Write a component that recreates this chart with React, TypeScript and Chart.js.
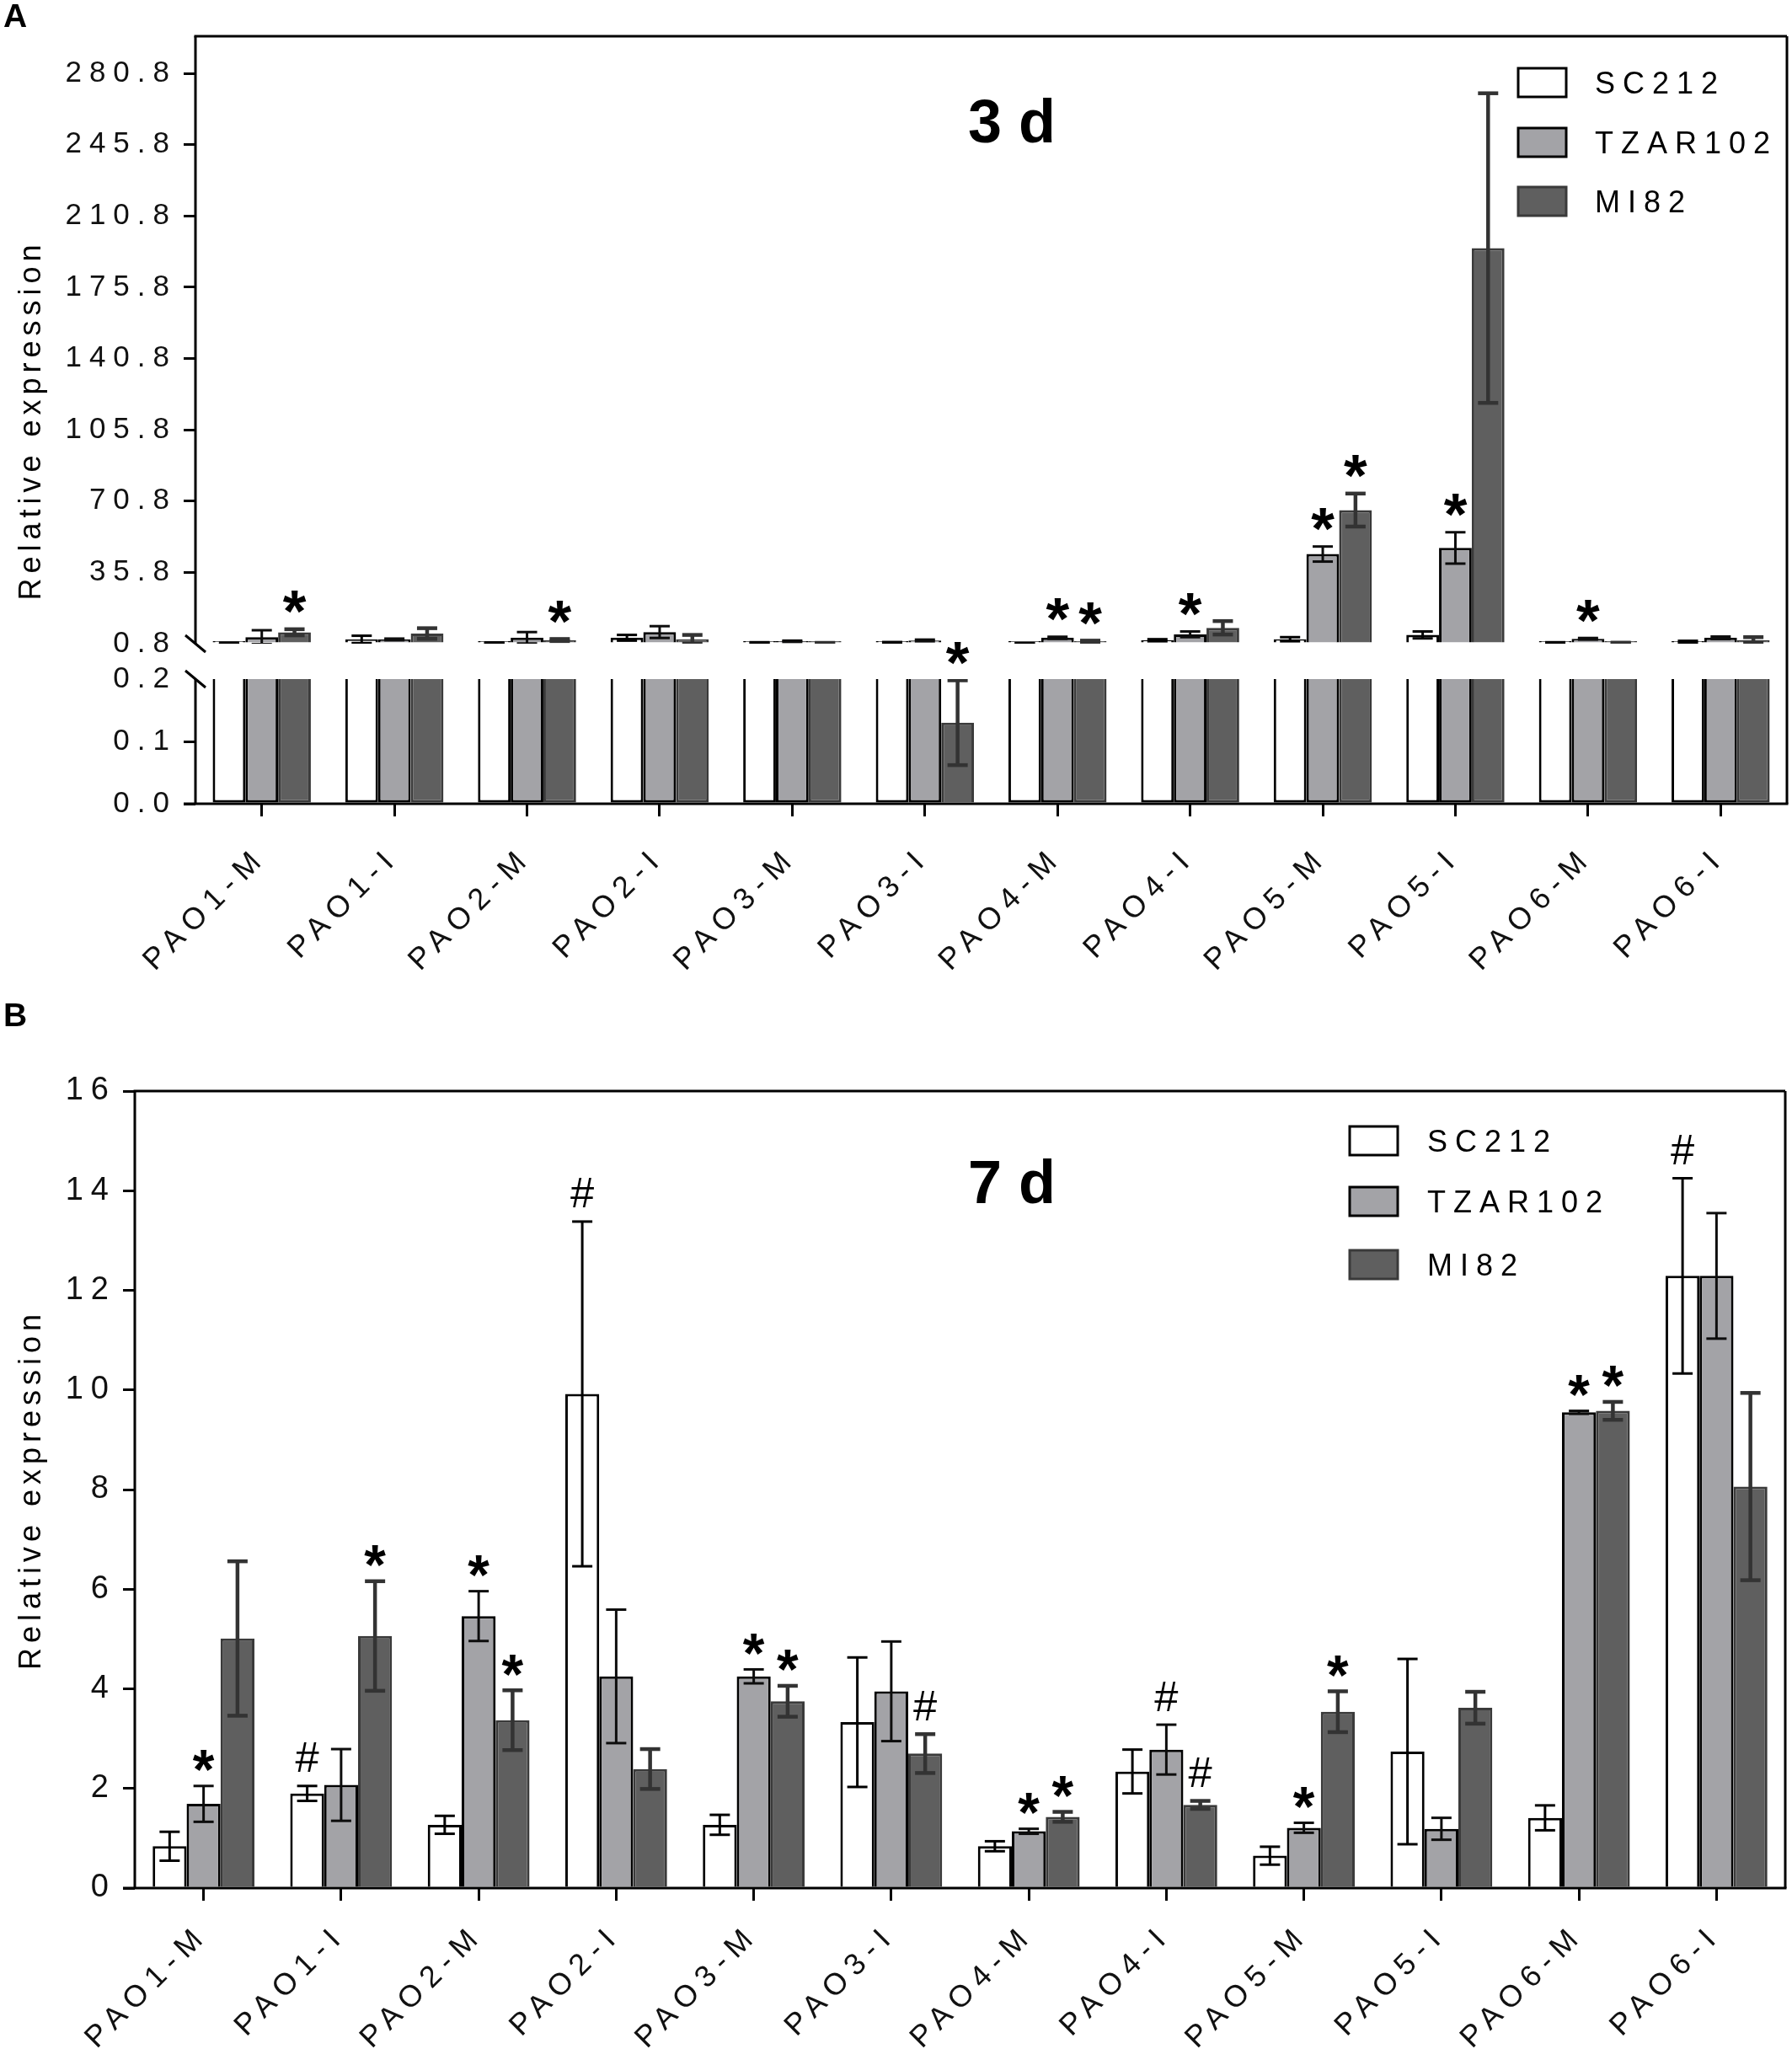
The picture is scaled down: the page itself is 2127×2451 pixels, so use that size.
import React, { useEffect, useRef } from 'react';
import { Chart, registerables } from 'chart.js';

Chart.register(...registerables);

// categorías y series
const CATEGORIES = ['PAO1-M', 'PAO1-I', 'PAO2-M', 'PAO2-I', 'PAO3-M', 'PAO3-I', 'PAO4-M', 'PAO4-I', 'PAO5-M', 'PAO5-I', 'PAO6-M', 'PAO6-I'];
const SERIES_NAMES = ['SC212', 'TZAR102', 'MI82'];

// Panel A (3 d)
const A_SC212 = [1.0, 2.9, 1.2, 3.7, 1.3, 1.4, 1.0, 2.5, 3.0, 5.1, 1.3, 1.8];
const A_SC212_ERR = [0.3, 1.8, 0.2, 1.4, 0.2, 0.2, 0.1, 0.5, 1.0, 1.7, 0.2, 0.4];
const A_TZAR102 = [4.0, 2.9, 3.7, 6.5, 2.0, 2.4, 3.7, 5.4, 44.8, 47.8, 3.2, 3.7];
const A_TZAR102_ERR = [3.4, 0.4, 2.8, 2.9, 0.3, 0.4, 0.5, 1.4, 3.7, 7.7, 0.4, 0.6];
const A_MI82 = [6.4, 5.8, 2.6, 3.0, 1.1, 0.13, 1.9, 8.6, 66.4, 195, 1.2, 2.6];
const A_MI82_ERR = [1.5, 2.6, 0.5, 2.1, 0.1, 0.068, 0.4, 3.3, 8.1, 76, 0.1, 1.4];
const A_SC212_MARKS = ['', '', '', '', '', '', '', '', '', '', '', ''];
const A_TZAR102_MARKS = ['', '', '', '', '', '', '*', '*', '*', '*', '*', ''];
const A_MI82_MARKS = ['*', '', '*', '', '', '*', '*', '', '*', '', '', ''];
const A_UPPER_TICKS = [0.8, 35.8, 70.8, 105.8, 140.8, 175.8, 210.8, 245.8, 280.8];
const A_LOWER_TICKS = [0.0, 0.1, 0.2];
const A_UPPER_MAX = 299;
const A_LOWER_MAX = 0.2568;

// Panel B (7 d)
const B_SC212 = [0.84, 1.9, 1.27, 9.92, 1.27, 3.33, 0.84, 2.34, 0.65, 2.74, 1.41, 12.29];
const B_SC212_ERR = [0.29, 0.15, 0.18, 3.46, 0.2, 1.3, 0.1, 0.44, 0.18, 1.86, 0.25, 1.96];
const B_TZAR102 = [1.69, 2.07, 5.46, 4.25, 4.25, 3.95, 1.14, 2.78, 1.21, 1.19, 9.55, 12.29];
const B_TZAR102_ERR = [0.36, 0.72, 0.5, 1.34, 0.14, 1.0, 0.05, 0.5, 0.1, 0.22, 0.03, 1.26];
const B_MI82 = [5.01, 5.06, 3.37, 2.39, 3.75, 2.7, 1.43, 1.67, 3.54, 3.62, 9.58, 8.06];
const B_MI82_ERR = [1.55, 1.1, 0.6, 0.4, 0.31, 0.39, 0.1, 0.08, 0.41, 0.32, 0.18, 1.88];
const B_SC212_MARKS = ['', '#', '', '#', '', '', '', '', '', '', '', '#'];
const B_TZAR102_MARKS = ['*', '', '*', '', '*', '', '*', '#', '*', '', '*', ''];
const B_MI82_MARKS = ['', '*', '*', '', '*', '#', '*', '#', '*', '', '*', ''];
const B_TICKS = [0, 2, 4, 6, 8, 10, 12, 14, 16];

// estilos
const FONT = "'Liberation Sans', Arial, Helvetica, sans-serif";
const FILLS = ['#ffffff', '#a3a3a7', '#5f5f5f'];
const EDGES = ['#000000', '#000000', '#3a3a3a'];
const ERR_COLORS = ['#000000', '#0d0d0d', '#333333'];
const ERR_WIDTHS = [3, 3, 4.5];
const CAP = 24;
const SPACING = '9px';
const SPLIT = 1180; // altura del lienzo A

interface Series {
  values: number[];
  errors: number[];
  marks: string[];
}

interface Slot {
  meta: number;
  scale: any;
  top: number;
  bottom: number;
}

const line = (ctx: CanvasRenderingContext2D, x1: number, y1: number, x2: number, y2: number) => {
  ctx.beginPath();
  ctx.moveTo(x1, y1);
  ctx.lineTo(x2, y2);
  ctx.stroke();
};

// texto centrado verticalmente según la caja real del glifo
const centerText = (ctx: any, text: string, x: number, cy: number, font: string, spacing = '0px', align = 'center') => {
  ctx.save();
  ctx.letterSpacing = spacing;
  ctx.font = font;
  ctx.fillStyle = '#000';
  ctx.textAlign = align;
  ctx.textBaseline = 'alphabetic';
  const m = ctx.measureText(text);
  ctx.fillText(text, x, cy + (m.actualBoundingBoxAscent - m.actualBoundingBoxDescent) / 2);
  ctx.restore();
};

const glyph = (ctx: any, text: string, x: number, cy: number, height: number, weight: string) => {
  ctx.save();
  ctx.letterSpacing = '0px';
  ctx.font = `${weight} 100px ${FONT}`;
  const m = ctx.measureText(text);
  const size = (100 * height) / (m.actualBoundingBoxAscent + m.actualBoundingBoxDescent);
  ctx.restore();
  centerText(ctx, text, x, cy, `${weight} ${size.toFixed(1)}px ${FONT}`);
};

const drawLegend = (ctx: any, boxX: number, textX: number, rows: number[]) => {
  SERIES_NAMES.forEach((name, s) => {
    const cy = rows[s];
    ctx.save();
    ctx.fillStyle = FILLS[s];
    ctx.fillRect(boxX, cy - 17, 57, 34);
    ctx.strokeStyle = EDGES[s];
    ctx.lineWidth = 3;
    ctx.strokeRect(boxX, cy - 17, 57, 34);
    ctx.restore();
    centerText(ctx, name, textX, cy, `36px ${FONT}`, SPACING, 'left');
  });
};

const drawYTitle = (ctx: any, x: number, cy: number) => {
  ctx.save();
  ctx.translate(x, cy);
  ctx.rotate(-Math.PI / 2);
  ctx.letterSpacing = '6px';
  ctx.font = `36px ${FONT}`;
  ctx.fillStyle = '#000';
  ctx.textAlign = 'center';
  ctx.textBaseline = 'middle';
  ctx.fillText('Relative expression', 0, 0);
  ctx.restore();
};

const spacingPlugin = {
  id: 'spacing',
  beforeLayout: (chart: any) => { chart.ctx.letterSpacing = SPACING; },
  beforeDraw: (chart: any) => { chart.ctx.letterSpacing = SPACING; },
};

// barras de error y marcas de significancia
const seriesDecor = (series: Series[], resolve: (chart: any, si: number, v: number) => Slot | null, starH: number, starGap: number) => ({
  id: 'seriesDecor',
  afterDatasetsDraw: (chart: any) => {
    const ctx = chart.ctx;
    const area = chart.chartArea;
    series.forEach((s, si) => {
      s.values.forEach((v, i) => {
        const slot = resolve(chart, si, v);
        if (!slot) return;
        const bar = chart.getDatasetMeta(slot.meta).data[i];
        const yHi = slot.scale.getPixelForValue(v + s.errors[i]);
        const yLo = slot.scale.getPixelForValue(v - s.errors[i]);
        ctx.save();
        ctx.beginPath();
        ctx.rect(area.left, slot.top, area.right - area.left, slot.bottom - slot.top);
        ctx.clip();
        ctx.strokeStyle = ERR_COLORS[si];
        ctx.lineWidth = ERR_WIDTHS[si];
        line(ctx, bar.x, yHi, bar.x, yLo);
        line(ctx, bar.x - CAP / 2, yHi, bar.x + CAP / 2, yHi);
        line(ctx, bar.x - CAP / 2, yLo, bar.x + CAP / 2, yLo);
        ctx.restore();
      });
    });
  },
  afterDraw: (chart: any) => {
    const ctx = chart.ctx;
    series.forEach((s, si) => {
      s.marks.forEach((mark, i) => {
        if (!mark) return;
        const v = s.values[i];
        const slot = resolve(chart, si, v);
        if (!slot) return;
        const bar = chart.getDatasetMeta(slot.meta).data[i];
        const top = slot.scale.getPixelForValue(v + s.errors[i]);
        if (mark === '*') glyph(ctx, '*', bar.x, top - starGap, starH, 'bold');
        else glyph(ctx, '#', bar.x, top - 34, 35, 'normal');
      });
    });
  },
});

const xScale = (height: number, padding: number) => ({
  type: 'category',
  offset: true,
  grid: { offset: false, drawOnChartArea: false, drawTicks: true, tickLength: 15, lineWidth: 3, color: '#000' },
  border: { display: false },
  ticks: { autoSkip: false, maxRotation: 45, minRotation: 45, padding, color: '#111', font: { family: FONT, size: 36 } },
  afterFit: (s: any) => { s.height = height; },
});

const yTicks = (size: number, digits: number) => ({
  color: '#111',
  padding: 8,
  font: { family: FONT, size },
  callback: (v: any) => Number(v).toFixed(digits),
});

const buildA = (ctx: CanvasRenderingContext2D) => {
  const series: Series[] = [
    { values: A_SC212, errors: A_SC212_ERR, marks: A_SC212_MARKS },
    { values: A_TZAR102, errors: A_TZAR102_ERR, marks: A_TZAR102_MARKS },
    { values: A_MI82, errors: A_MI82_ERR, marks: A_MI82_MARKS },
  ];
  const upperMin = A_UPPER_TICKS[0];
  const lowerTop = A_LOWER_TICKS[A_LOWER_TICKS.length - 1];

  const upper = series.map((s, si) => ({
    label: SERIES_NAMES[si],
    data: s.values.map((v) => (v >= upperMin ? v : null)),
    yAxisID: 'y',
    stack: 'g' + si,
    base: upperMin,
    minBarLength: 3,
    backgroundColor: FILLS[si],
    borderColor: EDGES[si],
    borderWidth: 3,
  }));
  const lower = series.map((s, si) => ({
    label: SERIES_NAMES[si] + ' (low)',
    data: s.values.map((v) => Math.min(v, lowerTop)),
    yAxisID: 'yLow',
    stack: 'g' + si,
    backgroundColor: FILLS[si],
    borderColor: EDGES[si],
    borderWidth: 3,
    borderSkipped: (c: any) => (c.raw >= lowerTop ? 'top' : 'start'),
  }));

  const resolve = (chart: any, si: number, v: number): Slot | null => {
    if (v >= upperMin) {
      const sc = chart.scales.y;
      return { meta: si, scale: sc, top: sc.top, bottom: sc.bottom };
    }
    if (v < lowerTop) {
      const sc = chart.scales.yLow;
      return { meta: si + 3, scale: sc, top: sc.getPixelForValue(lowerTop), bottom: sc.bottom };
    }
    return null;
  };

  const frame = {
    id: 'frameA',
    afterDraw: (chart: any) => {
      const c = chart.ctx;
      const a = chart.chartArea;
      const yHi = chart.scales.y.getPixelForValue(upperMin);
      const yLo = chart.scales.yLow.getPixelForValue(lowerTop);
      c.save();
      c.strokeStyle = '#000';
      c.lineWidth = 3;
      line(c, a.left - 1.5, a.top, a.right, a.top);
      line(c, a.right, a.top, a.right, a.bottom);
      line(c, a.left - 14, a.bottom, a.right + 1.5, a.bottom);
      line(c, a.left, a.top, a.left, yHi);
      line(c, a.left, yLo, a.left, a.bottom);
      line(c, a.left - 12, yHi - 10, a.left + 12, yHi + 10);
      line(c, a.left - 12, yLo - 10, a.left + 12, yLo + 10);
      c.restore();
      drawLegend(c, 1802, 1893, [98, 169, 239]);
      centerText(c, '3 d', 1201, 143, `bold 72px ${FONT}`, '0px');
      centerText(c, 'A', 4, 18, `bold 39px ${FONT}`, '0px', 'left');
      drawYTitle(c, 38, (a.top + a.bottom) / 2);
    },
  };

  return new Chart(ctx, {
    type: 'bar',
    data: { labels: CATEGORIES, datasets: [...upper, ...lower] as any },
    options: {
      responsive: false,
      animation: false,
      devicePixelRatio: 1,
      events: [],
      layout: { padding: { top: 43, right: 6, bottom: 0, left: 0 } },
      datasets: { bar: { categoryPercentage: 0.74, barPercentage: 1 } },
      plugins: { legend: { display: false }, tooltip: { enabled: false } },
      scales: {
        x: xScale(SPLIT - 954, 28),
        y: {
          type: 'linear',
          position: 'left',
          stack: 'left',
          stackWeight: 721,
          weight: 2,
          stacked: false,
          min: upperMin,
          max: A_UPPER_MAX,
          afterBuildTicks: (s: any) => { s.ticks = A_UPPER_TICKS.map((value) => ({ value })); },
          afterFit: (s: any) => { s.width = 232; },
          grid: {
            drawOnChartArea: false, drawTicks: true, tickLength: 14, lineWidth: 3,
            color: (c: any) => (c.tick && c.tick.value === upperMin ? 'rgba(0,0,0,0)' : '#000'),
          },
          border: { display: false },
          ticks: yTicks(35, 1),
        },
        yLow: {
          type: 'linear',
          position: 'left',
          stack: 'left',
          stackWeight: 190,
          weight: 1,
          stacked: false,
          min: 0,
          max: A_LOWER_MAX,
          afterBuildTicks: (s: any) => { s.ticks = A_LOWER_TICKS.map((value) => ({ value })); },
          afterFit: (s: any) => { s.width = 232; },
          grid: {
            drawOnChartArea: false, drawTicks: true, tickLength: 14, lineWidth: 3,
            color: (c: any) => (c.tick && c.tick.value === lowerTop ? 'rgba(0,0,0,0)' : '#000'),
          },
          border: { display: false },
          ticks: yTicks(35, 1),
        },
      } as any,
    },
    plugins: [spacingPlugin, seriesDecor(series, resolve, 27, 32), frame] as any,
  });
};

const buildB = (ctx: CanvasRenderingContext2D) => {
  const series: Series[] = [
    { values: B_SC212, errors: B_SC212_ERR, marks: B_SC212_MARKS },
    { values: B_TZAR102, errors: B_TZAR102_ERR, marks: B_TZAR102_MARKS },
    { values: B_MI82, errors: B_MI82_ERR, marks: B_MI82_MARKS },
  ];
  const datasets = series.map((s, si) => ({
    label: SERIES_NAMES[si],
    data: s.values,
    backgroundColor: FILLS[si],
    borderColor: EDGES[si],
    borderWidth: 3,
  }));
  const resolve = (chart: any, si: number): Slot => {
    const sc = chart.scales.y;
    return { meta: si, scale: sc, top: sc.top - 200, bottom: sc.bottom };
  };
  const off = 1190 - SPLIT;

  const frame = {
    id: 'frameB',
    afterDraw: (chart: any) => {
      const c = chart.ctx;
      const a = chart.chartArea;
      c.save();
      c.strokeStyle = '#000';
      c.lineWidth = 3;
      line(c, a.left - 1.5, a.top, a.right, a.top);
      line(c, a.right, a.top, a.right, a.bottom);
      line(c, a.left - 14, a.bottom, a.right + 1.5, a.bottom);
      line(c, a.left, a.top, a.left, a.bottom);
      c.restore();
      drawLegend(c, 1602, 1694, [164 + off, 236 + off, 311 + off]);
      centerText(c, '7 d', 1201, 212 + off, `bold 72px ${FONT}`, '0px');
      centerText(c, 'B', 4, 14 + off, `bold 39px ${FONT}`, '0px', 'left');
      drawYTitle(c, 38, (a.top + a.bottom) / 2);
    },
  };

  return new Chart(ctx, {
    type: 'bar',
    data: { labels: CATEGORIES, datasets: datasets as any },
    options: {
      responsive: false,
      animation: false,
      devicePixelRatio: 1,
      events: [],
      layout: { padding: { top: 105 + off, right: 8, bottom: 0, left: 0 } },
      datasets: { bar: { categoryPercentage: 0.74, barPercentage: 1 } },
      plugins: { legend: { display: false }, tooltip: { enabled: false } },
      scales: {
        x: xScale(2451 - 2241, 20),
        y: {
          type: 'linear',
          position: 'left',
          min: B_TICKS[0],
          max: B_TICKS[B_TICKS.length - 1],
          afterBuildTicks: (s: any) => { s.ticks = B_TICKS.map((value) => ({ value })); },
          afterFit: (s: any) => { s.width = 160; },
          grid: { drawOnChartArea: false, drawTicks: true, tickLength: 14, lineWidth: 3, color: '#000' },
          border: { display: false },
          ticks: yTicks(38, 0),
        },
      } as any,
    },
    plugins: [spacingPlugin, seriesDecor(series, resolve, 25, 30), frame] as any,
  });
};

const useChart = (build: (ctx: CanvasRenderingContext2D) => Chart) => {
  const ref = useRef<HTMLCanvasElement>(null);
  useEffect(() => {
    const ctx = ref.current?.getContext('2d');
    if (!ctx) return;
    const chart = build(ctx);
    return () => chart.destroy();
  }, []);
  return ref;
};

const App: React.FC = () => {
  const refA = useChart(buildA);
  const refB = useChart(buildB);
  return (
    <div style={{ position: 'absolute', left: 0, top: 0, width: 2127, height: 2451, background: '#fff' }}>
      <canvas ref={refA} width={2127} height={SPLIT} style={{ position: 'absolute', left: 0, top: 0 }} />
      <canvas ref={refB} width={2127} height={2451 - SPLIT} style={{ position: 'absolute', left: 0, top: SPLIT }} />
    </div>
  );
};

export default App;
